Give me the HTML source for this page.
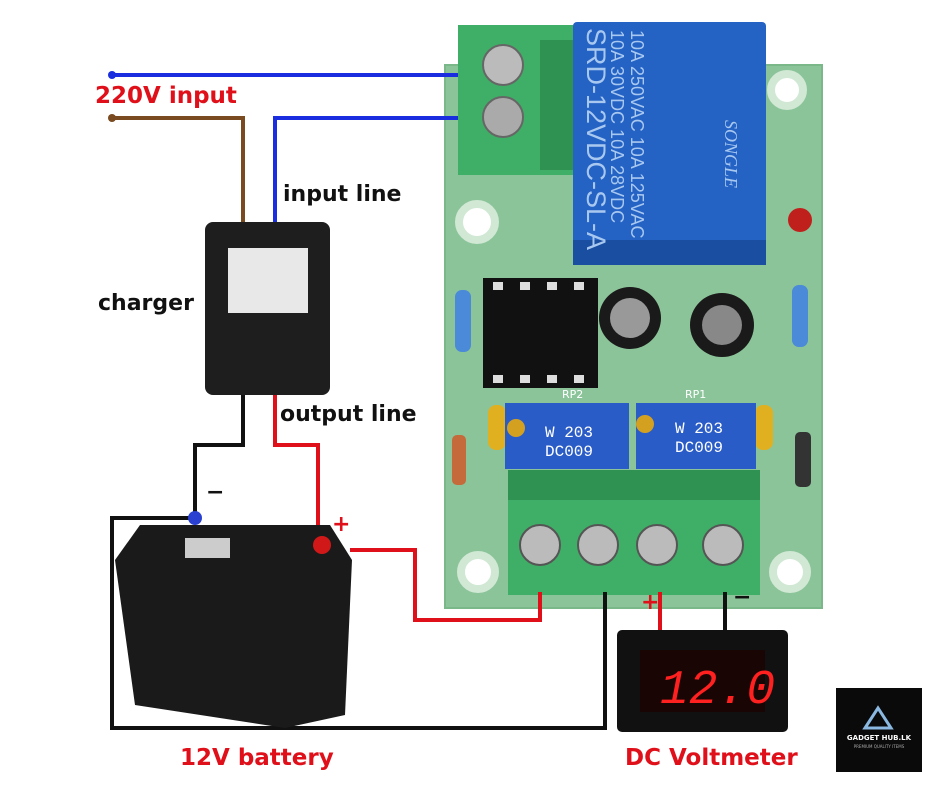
<!DOCTYPE html>
<html><head><style>
body{margin:0;background:#fff;width:940px;height:788px;overflow:hidden;position:relative;font-family:"DejaVu Sans","Liberation Sans",sans-serif}
.a{position:absolute}
.lbl{position:absolute;font-weight:bold;font-size:22px;white-space:nowrap}
</style></head><body>
<svg class="a" style="left:0;top:0" width="940" height="788">
<rect x="445" y="65" width="377" height="543" fill="#8cc49a"/>
<rect x="445" y="65" width="377" height="543" fill="none" stroke="#7ab88a" stroke-width="2"/>
<g fill="#fff" stroke="#d0e8d4" stroke-width="8">
<circle cx="787" cy="90" r="16"/><circle cx="477" cy="222" r="18"/>
<circle cx="478" cy="572" r="17"/><circle cx="790" cy="572" r="17"/>
</g>
<rect x="458" y="25" width="115" height="150" fill="#3fae66"/>
<rect x="540" y="40" width="33" height="130" fill="#2f9252"/>
<circle cx="503" cy="65" r="20" fill="#bbb" stroke="#666" stroke-width="2"/>
<circle cx="503" cy="117" r="20" fill="#aaa" stroke="#666" stroke-width="2"/>
<rect x="573" y="22" width="193" height="243" rx="4" fill="#2462c4"/>
<rect x="573" y="240" width="193" height="25" fill="#1a4ea0"/>
<g transform="translate(585,28) rotate(90)" font-family="Liberation Sans" fill="#a8c8f0" font-size="27">
<text x="0" y="-2">SRD-12VDC-SL-A</text>
</g>
<g transform="translate(607,30) rotate(90)" font-family="Liberation Sans" fill="#a8c8f0" font-size="18">
<text x="0" y="-24">10A 250VAC  10A 125VAC</text>
<text x="0" y="-4">10A 30VDC  10A 28VDC</text>
</g>
<g transform="translate(720,120) rotate(90)" font-family="Liberation Serif" fill="#a8c8f0" font-size="18" font-style="italic">
<text x="0" y="-5">SONGLE</text>
</g>
<circle cx="800" cy="220" r="12" fill="#c0201c"/>
<rect x="455" y="290" width="16" height="62" rx="7" fill="#4a8ad8"/>
<rect x="792" y="285" width="16" height="62" rx="7" fill="#4a8ad8"/>
<rect x="483" y="278" width="115" height="110" fill="#111"/>
<g fill="#ddd"><rect x="493" y="282" width="10" height="8"/><rect x="520" y="282" width="10" height="8"/><rect x="547" y="282" width="10" height="8"/><rect x="574" y="282" width="10" height="8"/>
<rect x="493" y="375" width="10" height="8"/><rect x="520" y="375" width="10" height="8"/><rect x="547" y="375" width="10" height="8"/><rect x="574" y="375" width="10" height="8"/></g>
<circle cx="630" cy="318" r="31" fill="#1a1a1a"/><circle cx="630" cy="318" r="20" fill="#999"/>
<circle cx="722" cy="325" r="32" fill="#1a1a1a"/><circle cx="722" cy="325" r="20" fill="#888"/>
<rect x="488" y="405" width="18" height="45" rx="8" fill="#e0b020"/>
<rect x="755" y="405" width="18" height="45" rx="8" fill="#e0b020"/>
<rect x="452" y="435" width="14" height="50" rx="5" fill="#c56a3a"/>
<rect x="795" y="432" width="16" height="55" rx="5" fill="#333"/>
<rect x="505" y="403" width="124" height="66" fill="#2a5cc8"/>
<rect x="636" y="403" width="120" height="66" fill="#2a5cc8"/>
<circle cx="516" cy="428" r="9" fill="#d4a020"/><circle cx="645" cy="424" r="9" fill="#d4a020"/>
<text x="545" y="437" font-family="Liberation Mono" font-size="16" fill="#fff">W 203</text>
<text x="545" y="456" font-family="Liberation Mono" font-size="16" fill="#fff">DC009</text>
<text x="675" y="433" font-family="Liberation Mono" font-size="16" fill="#fff">W 203</text>
<text x="675" y="452" font-family="Liberation Mono" font-size="16" fill="#fff">DC009</text>
<text x="562" y="398" font-size="11" fill="#fff">RP2</text><text x="685" y="398" font-size="11" fill="#fff">RP1</text>
<rect x="508" y="470" width="252" height="125" fill="#3fae66"/>
<rect x="508" y="470" width="252" height="30" fill="#2f9252"/>
<g fill="#bbb" stroke="#555" stroke-width="2">
<circle cx="540" cy="545" r="20"/><circle cx="598" cy="545" r="20"/><circle cx="657" cy="545" r="20"/><circle cx="723" cy="545" r="20"/></g>
<g fill="none" stroke-width="4">
<polyline points="110,75 458,75" stroke="#1a2ee0"/>
<polyline points="275,222 275,118 458,118" stroke="#1a2ee0"/>
<polyline points="110,118 243,118 243,222" stroke="#7a4a20"/>
<polyline points="275,395 275,445 318,445 318,540" stroke="#e0101a"/>
<polyline points="350,550 415,550 415,620 540,620 540,592" stroke="#e0101a"/>
<polyline points="660,592 660,632" stroke="#e0101a"/>
<polyline points="243,395 243,445 195,445 195,515" stroke="#111"/>
<polyline points="195,518 112,518 112,728 605,728 605,592" stroke="#111"/>
<polyline points="725,592 725,632" stroke="#111"/>
</g>
<circle cx="112" cy="75" r="4" fill="#1a2ee0"/><circle cx="112" cy="118" r="4" fill="#7a4a20"/>
<rect x="205" y="222" width="125" height="173" rx="8" fill="#1e1e1e"/>
<rect x="228" y="248" width="80" height="65" fill="#e8e8e8"/>
<path d="M140 525 L330 525 L352 560 L345 715 L285 728 L135 705 L115 560 Z" fill="#1a1a1a"/>
<rect x="185" y="538" width="45" height="20" fill="#ccc"/>
<circle cx="195" cy="518" r="7" fill="#2a40d0"/>
<circle cx="322" cy="545" r="9" fill="#d01818"/>
<rect x="617" y="630" width="171" height="102" rx="5" fill="#111"/>
<rect x="640" y="650" width="125" height="62" fill="#1a0505"/>
<text x="660" y="703" font-family="Liberation Mono" font-size="48" fill="#ff2020" font-style="italic">12.0</text>
<rect x="836" y="688" width="86" height="84" fill="#0a0a0a"/>
<path d="M865 728 L878 708 L891 728 Z" fill="none" stroke="#8ab8e0" stroke-width="3"/>
<text x="879" y="740" font-size="7" fill="#fff" text-anchor="middle" font-weight="bold">GADGET HUB.LK</text>
<text x="879" y="748" font-size="4" fill="#aaa" text-anchor="middle">PREMIUM QUALITY ITEMS</text>
</svg>
<div class="lbl" style="left:95px;top:83px;color:#e0101a;font-size:23px">220V input</div>
<div class="lbl" style="left:283px;top:182px;color:#111;font-size:22px">input line</div>
<div class="lbl" style="left:98px;top:291px;color:#111;font-size:22px">charger</div>
<div class="lbl" style="left:280px;top:402px;color:#111;font-size:22px">output line</div>
<div class="lbl" style="left:180px;top:745px;color:#e0101a;font-size:23px">12V battery</div>
<div class="lbl" style="left:625px;top:745px;color:#e0101a;font-size:23px">DC Voltmeter</div>
<div class="lbl" style="left:206px;top:480px;color:#111">−</div>
<div class="lbl" style="left:332px;top:512px;color:#e0101a">+</div>
<div class="lbl" style="left:641px;top:590px;color:#e0101a">+</div>
<div class="lbl" style="left:733px;top:585px;color:#111">−</div>
</body></html>
